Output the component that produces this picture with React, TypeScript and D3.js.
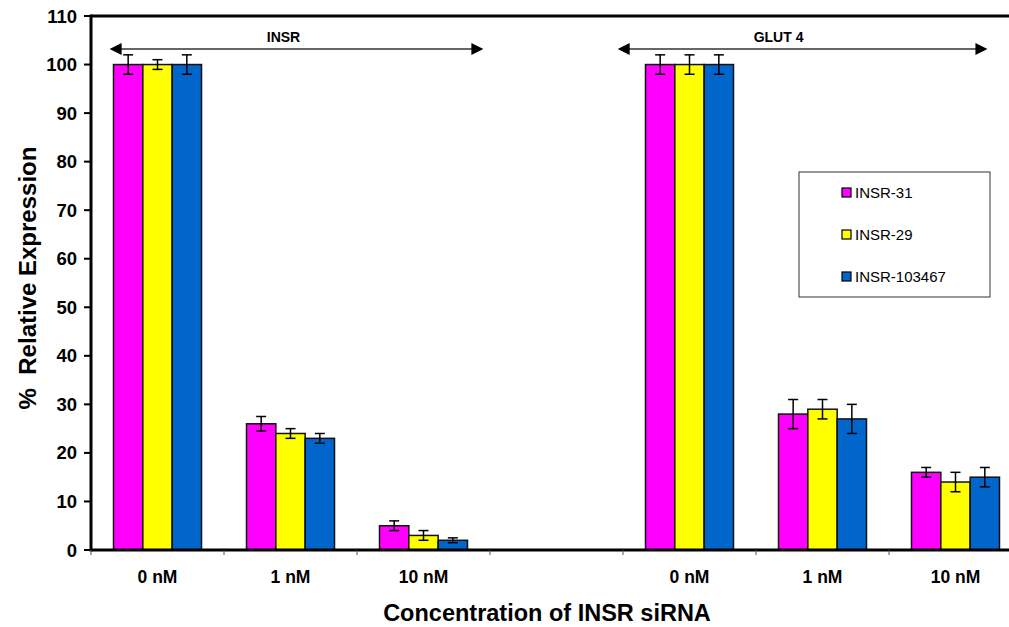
import React from 'react'
import { scaleBand, scaleLinear, range } from 'd3'

const categories = ['0 nM', '1 nM', '10 nM', '', '0 nM', '1 nM', '10 nM']
const seriesNames = ['INSR-31', 'INSR-29', 'INSR-103467']
const seriesColors = ['#ff00ff', '#ffff00', '#0066cc']
const insr31 = [100, 26, 5, null, 100, 28, 16]
const insr29 = [100, 24, 3, null, 100, 29, 14]
const insr103467 = [100, 23, 2, null, 100, 27, 15]
const err31 = [2, 1.5, 1, null, 2, 3, 1]
const err29 = [1, 1, 1, null, 2, 2, 2]
const err103467 = [2, 1, 0.5, null, 2, 3, 2]
const yTicks = range(0, 111, 10)
// arrow spans in category units
const spanLabels = ['INSR', 'GLUT 4']
const spanStart = [0.14, 3.96]
const spanEnd = [2.95, 6.74]

const values = [insr31, insr29, insr103467]
const errors = [err31, err29, err103467]

const FONT = 'Arial, "Liberation Sans", sans-serif'

const App = () => {
  const width = 1009
  const height = 627
  const left = 91
  const top = 16
  const bottom = 550
  const right = 1022

  const x = scaleBand().domain(range(categories.length).map(String)).range([left, right])
  const xs = scaleLinear().domain([0, categories.length]).range([left, right])
  const inner = scaleBand().domain(seriesNames).range([22.5, 110.5])
  const y = scaleLinear().domain([0, 110]).range([bottom, top])

  const bars = values.map((vals, s) =>
    vals.map((v, i) => {
      if (v == null) return null
      const bx = (x(String(i)) as number) + (inner(seriesNames[s]) as number)
      const cx = bx + inner.bandwidth() / 2
      const e = errors[s][i] as number
      return (
        <g key={`${s}-${i}`}>
          <rect x={bx} y={y(v)} width={inner.bandwidth()} height={bottom - y(v)}
            fill={seriesColors[s]} stroke='#111' strokeWidth={1.5} />
          <line x1={cx} x2={cx} y1={y(v + e)} y2={y(v - e)} stroke='#000' strokeWidth={1.5} />
          <line x1={cx - 5} x2={cx + 5} y1={y(v + e)} y2={y(v + e)} stroke='#000' strokeWidth={1.5} />
          <line x1={cx - 5} x2={cx + 5} y1={y(v - e)} y2={y(v - e)} stroke='#000' strokeWidth={1.5} />
        </g>
      )
    })
  )

  const arrowY = 49
  const arrows = spanLabels.map((lab, i) => {
    const x1 = xs(spanStart[i])
    const x2 = xs(spanEnd[i])
    return (
      <g key={lab}>
        <line x1={x1 + 10} x2={x2 - 10} y1={arrowY} y2={arrowY} stroke='#666' strokeWidth={2} />
        <path d={`M${x1},${arrowY} L${x1 + 12},${arrowY - 6} L${x1 + 12},${arrowY + 6} Z`} fill='#000' />
        <path d={`M${x2},${arrowY} L${x2 - 12},${arrowY - 6} L${x2 - 12},${arrowY + 6} Z`} fill='#000' />
        <text x={(x1 + x2) / 2 + (i === 0 ? -13 : -24)} y={arrowY - 7} textAnchor='middle'
          fontSize={14} fontWeight='bold' fontFamily={FONT}>{lab}</text>
      </g>
    )
  })

  return (
    <svg width={width} height={height} style={{ position: 'absolute', left: 0, top: 0, background: '#fff' }}>
      {bars}
      {/* axes */}
      <line x1={left} x2={width} y1={top} y2={top} stroke='#000' strokeWidth={3} />
      <line x1={left} x2={width} y1={bottom} y2={bottom} stroke='#000' strokeWidth={3} />
      <line x1={left} x2={left} y1={top - 1.5} y2={bottom + 1.5} stroke='#000' strokeWidth={3} />
      {yTicks.map(t => (
        <g key={t}>
          <line x1={left - 7} x2={left} y1={y(t)} y2={y(t)} stroke='#000' strokeWidth={2} />
          <text x={77} y={y(t) + 6.5} textAnchor='end' fontSize={18.5} fontWeight='bold' fontFamily={FONT}>{t}</text>
        </g>
      ))}
      {range(categories.length).map(i => (
        <line key={i} x1={x(String(i))} x2={x(String(i))} y1={bottom} y2={bottom + 5} stroke='#555' strokeWidth={1} />
      ))}
      {categories.map((c, i) => (
        <text key={i} x={(x(String(i)) as number) + x.bandwidth() / 2} y={583} textAnchor='middle'
          fontSize={17.5} fontWeight='bold' fontFamily={FONT}>{c}</text>
      ))}
      {arrows}
      {/* legend */}
      <rect x={799} y={172} width={191} height={125} fill='#fff' stroke='#333' strokeWidth={1} />
      {seriesNames.map((n, i) => (
        <g key={n}>
          <rect x={842} y={188 + i * 42} width={9} height={9} fill={seriesColors[i]} stroke='#000' strokeWidth={1.2} />
          <text x={855} y={198 + i * 42} fontSize={15} fontFamily={FONT}>{n}</text>
        </g>
      ))}
      <text transform='translate(36,278) rotate(-90)' textAnchor='middle' fontSize={24}
        fontWeight='bold' fontFamily={FONT} xmlSpace='preserve'>%  Relative Expression</text>
      <text x={547} y={621} textAnchor='middle' fontSize={23.5} fontWeight='bold' fontFamily={FONT}>
        Concentration of INSR siRNA
      </text>
    </svg>
  )
}

export default App
